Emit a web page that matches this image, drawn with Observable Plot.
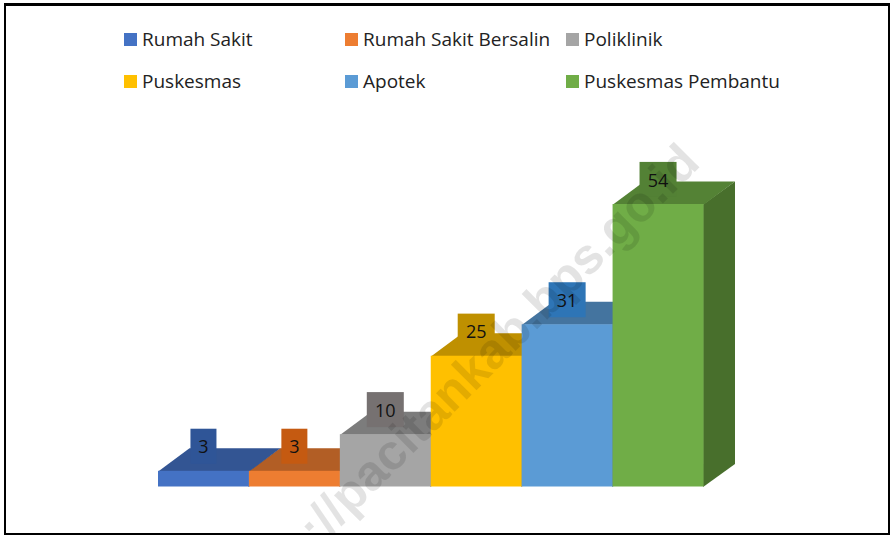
<!DOCTYPE html>
<html><head><meta charset="utf-8">
<script src="https://cdn.jsdelivr.net/npm/d3@7"></script>
<script src="https://cdn.jsdelivr.net/npm/@observablehq/plot@0.6"></script>
<style>
html,body{margin:0;padding:0;background:#fff}
#page{position:relative;width:891px;height:535px;overflow:hidden;background:#fff}
#legend{position:absolute;left:0;top:0;width:891px;height:100px;font:19px "Open Sans",sans-serif;color:#222}
.it{position:absolute;display:flex;align-items:center;height:24px;white-space:nowrap}
.sw{width:13px;height:13px;margin-right:5px;flex:none}
#chart{position:absolute;left:0;top:100px}
#chart svg{overflow:hidden;display:block}
#border{position:absolute;left:4px;top:3px;right:1px;bottom:0;border:solid #000;border-width:3px 2px 2px 2px;pointer-events:none}
</style></head><body>
<div id="page"><div id="legend"></div><div id="chart"></div><div id="border"></div></div>
<script>
const categories = ["Rumah Sakit","Rumah Sakit Bersalin","Poliklinik","Puskesmas","Apotek","Puskesmas Pembantu"];
const values = [3,3,10,25,31,54];
const frontColors = ["#4472C4","#ED7D31","#A5A5A5","#FFC000","#5B9BD5","#70AD47"];
const topColors = ["#335593","#B25E25","#7C7C7C","#BF9000","#44749F","#548235"];
const sideColors = ["#2A4A82","#9C5220","#6C6C6C","#A67D00","#3B658B","#486F2C"];
const labelColors = ["#2F5597","#C55A11","#767171","#BF9000","#2E75B6","#538135"];
const depthX = 0.341, depthY = 4.4, labelLift = 4.7;

const bars = categories.map((c,i)=>({c,i,v:values[i],front:frontColors[i],top:topColors[i],side:sideColors[i],label:labelColors[i]}));
const faces = bars.flatMap(b=>[
  {k:`t${b.i}`,fill:b.top,x:b.i,y:b.v},
  {k:`t${b.i}`,fill:b.top,x:b.i+1,y:b.v},
  {k:`t${b.i}`,fill:b.top,x:b.i+1+depthX,y:b.v+depthY},
  {k:`t${b.i}`,fill:b.top,x:b.i+depthX,y:b.v+depthY},
  {k:`s${b.i}`,fill:b.side,x:b.i+0.99,y:0},
  {k:`s${b.i}`,fill:b.side,x:b.i+0.99,y:b.v},
  {k:`s${b.i}`,fill:b.side,x:b.i+1+depthX,y:b.v+depthY},
  {k:`s${b.i}`,fill:b.side,x:b.i+1+depthX,y:depthY}
]);

const lg = document.getElementById("legend");
categories.forEach((c,i)=>{
  const el=document.createElement("div");el.className="it";
  el.style.left=[124,345,566][i%3]+"px";el.style.top=[27,69][Math.floor(i/3)]+"px";
  const s=document.createElement("span");s.className="sw";s.style.background=frontColors[i];
  const t=document.createElement("span");t.textContent=c;
  el.append(s,t);lg.append(el);
});

const marks=[];
bars.forEach(b=>{
  marks.push(Plot.line(faces.filter(f=>f.k===`s${b.i}`),{x:"x",y:"y",z:"k",fill:"fill",stroke:"none"}));
  marks.push(Plot.line(faces.filter(f=>f.k===`t${b.i}`),{x:"x",y:"y",z:"k",fill:"fill",stroke:"none"}));
  marks.push(Plot.rect([b],{x1:d=>d.i,x2:d=>d.i+1,y1:0,y2:"v",fill:"front"}));
});
const boxW = d=>String(d.v).length>1?37:26;
const pxX = 545.5/6, pxY = 282.5/54;
marks.push(Plot.rect(bars,{
  x1:d=>d.i+.5-boxW(d)/pxX/2, x2:d=>d.i+.5+boxW(d)/pxX/2,
  y1:d=>d.v+labelLift-17.5/pxY, y2:d=>d.v+labelLift+17.5/pxY, fill:"label"}));
marks.push(Plot.text(bars,{x:d=>d.i+.5,y:d=>d.v+labelLift,dx:-0.5,dy:1,text:d=>String(d.v),fontSize:18,fill:"#111",fontFamily:"Open Sans"}));
marks.push(Plot.text(["https://pacitankab.bps.go.id"],{frameAnchor:"top-left",dx:532,dy:-51,rotate:-45,textAnchor:"end",fontSize:50,fontWeight:700,fontFamily:"Liberation Sans",fill:"#000",fillOpacity:0.11,lineAnchor:"middle"}));

const chart = Plot.plot({
  width:891,height:435,
  marginLeft:158,marginRight:187.5,marginTop:104,marginBottom:48.5,
  x:{domain:[0,6],axis:null},
  y:{domain:[0,54],axis:null},
  color:{type:"identity"},
  marks
});
document.getElementById("chart").append(chart);
</script>
</body></html>
